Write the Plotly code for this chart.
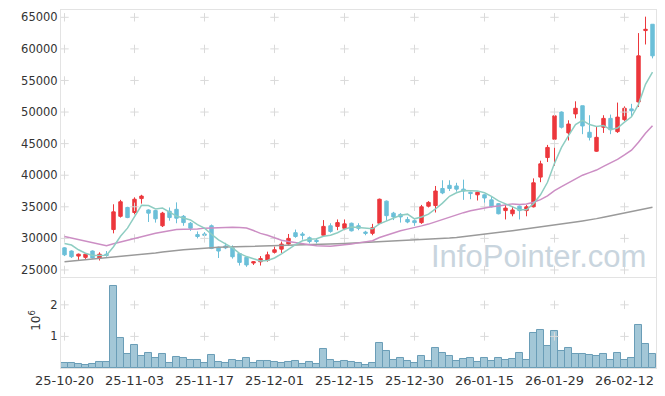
import pandas as pd
import plotly.graph_objects as go

# ---------------- data ----------------
holidays = ["2025-12-25", "2025-12-31", "2026-01-01", "2026-02-16", "2026-02-17", "2026-02-18"]
days = [d for d in pd.bdate_range("2025-10-20", "2026-02-23") if d.strftime("%Y-%m-%d") not in holidays]
dates = [d.strftime("%y-%m-%d") for d in days]

open_ = [28500, 28000, 27200, 27000, 28000, 26900, 27500, 31400, 33500, 34900,
         34100, 36300, 34500, 34400, 32000, 34300, 34600, 33500, 32400, 30600,
         30700, 32000, 28600, 28800, 28500, 27600, 27000, 26100, 26300, 26500,
         27800, 28300, 29100, 30900, 30700, 30100, 29700, 30500, 32000, 31900,
         31600, 32400, 32000, 31000, 30800, 32400, 35900, 34000, 33800, 33000,
         32800, 32500, 35100, 35200, 37900, 38400, 38300, 37800, 37300, 36900,
         36900, 36100, 35500, 34400, 33900, 35100, 34400, 35000, 39700, 42800,
         45700, 50000, 46700, 49700, 51000, 46800, 43800, 47600, 49000, 46900,
         48800, 50500, 51600, 62900, 63900]
high = [28600, 28100, 27600, 27600, 28100, 27800, 28000, 35400, 36100, 35000,
        36500, 36900, 34600, 34500, 34200, 34900, 35700, 33700, 32600, 31100,
        31000, 32200, 28700, 29300, 28900, 27700, 27200, 26400, 27200, 27900,
        28700, 29500, 30700, 31400, 31000, 30300, 30000, 32900, 32400, 33000,
        33000, 32500, 32400, 31200, 32300, 36300, 36000, 34200, 34000, 33400,
        33000, 35300, 35900, 38300, 39200, 39200, 38800, 39300, 37400, 37400,
        37000, 36600, 35600, 35300, 35100, 35200, 35300, 39500, 42300, 44800,
        49700, 50100, 48700, 51700, 51000, 49500, 47700, 49500, 49600, 51500,
        50900, 51300, 62500, 65100, 63900]
low = [27200, 26900, 26600, 26750, 26800, 26500, 27100, 30800, 33300, 33200,
       33800, 35500, 32600, 32500, 31800, 32800, 32400, 32000, 31200, 30000,
       29500, 28300, 26900, 28300, 26800, 25700, 25500, 25800, 25700, 26300,
       27600, 27700, 28900, 30100, 29800, 29200, 29200, 30400, 30900, 31300,
       31300, 31100, 31300, 30500, 30500, 32300, 32800, 32900, 32500, 32400,
       32000, 32300, 34900, 34100, 37000, 37500, 37400, 36100, 36200, 36000,
       35300, 34900, 33800, 33000, 33500, 33000, 33500, 34900, 38900, 42100,
       41500, 47400, 45500, 49000, 46500, 45500, 43700, 46700, 46500, 46700,
       48600, 49300, 50800, 60700, 58500]
close = [27400, 27100, 27500, 27500, 26900, 27500, 27300, 34200, 35800, 33300,
         36200, 36700, 34000, 33100, 34000, 33300, 33200, 32500, 31600, 30300,
         30500, 28400, 28000, 28500, 27100, 26200, 25800, 26300, 26800, 27400,
         28200, 29100, 30000, 30300, 30500, 29500, 29500, 31900, 31100, 32500,
         32300, 31200, 31600, 30800, 31700, 36200, 33600, 33400, 33400, 32600,
         32500, 35000, 35700, 37500, 37200, 37900, 37800, 37500, 37100, 37300,
         36400, 35000, 33900, 34800, 34500, 34400, 35000, 38800, 41800, 44400,
         49400, 47600, 48100, 50600, 47800, 46000, 46000, 49000, 47200, 49200,
         50600, 50200, 58900, 63100, 58900]
volume_m = [0.15, 0.15, 0.12, 0.09, 0.12, 0.18, 0.18, 2.59, 0.94, 0.44,
            0.72, 0.37, 0.46, 0.31, 0.43, 0.15, 0.34, 0.31, 0.24, 0.24,
            0.15, 0.40, 0.18, 0.15, 0.24, 0.21, 0.31, 0.15, 0.21, 0.21,
            0.18, 0.15, 0.18, 0.21, 0.12, 0.18, 0.12, 0.59, 0.24, 0.18,
            0.21, 0.18, 0.15, 0.09, 0.15, 0.78, 0.53, 0.24, 0.31, 0.21,
            0.15, 0.37, 0.21, 0.62, 0.46, 0.37, 0.21, 0.27, 0.31, 0.18,
            0.31, 0.21, 0.31, 0.24, 0.27, 0.46, 0.24, 1.10, 1.19, 0.69,
            1.16, 0.53, 0.62, 0.43, 0.43, 0.40, 0.37, 0.43, 0.24, 0.46,
            0.24, 0.31, 1.35, 0.75, 0.43]
# moving-average values before a full window is available
ma5_head = [29200, 28950, 28200, 27650]
ma20_head = [30300, 30050, 29800, 29570, 29330, 29080, 28850, 29150, 29450, 29700,
             30000, 30250, 30550, 30800, 31000, 31250, 31400, 31450, 31470]
# long moving average (grey)
ma_long = [26300, 26400, 26500, 26600, 26700, 26800, 26900, 27000, 27100, 27200,
           27300, 27400, 27550, 27700, 27850, 28000, 28100, 28200, 28300, 28400,
           28500, 28550, 28600, 28620, 28650, 28670, 28690, 28700, 28720, 28750,
           28800, 28840, 28880, 28920, 28960, 29000, 29040, 29080, 29120, 29160,
           29200, 29250, 29300, 29350, 29400, 29450, 29500, 29550, 29600, 29650,
           29700, 29750, 29800, 29850, 29950, 30050, 30150, 30270, 30400, 30530,
           30660, 30800, 30940, 31080, 31220, 31360, 31500, 31650, 31800, 31950,
           32100, 32250, 32400, 32580, 32750, 32910, 33130, 33350, 33570, 33790,
           34010, 34240, 34470, 34700, 34930]
price_ticks = [25000, 30000, 35000, 40000, 45000, 50000, 55000, 60000, 65000]
vol_ticks = [1, 2]

# ---------------- derived ----------------
cs = pd.Series(close, dtype=float)
ma5 = ma5_head + list(cs.rolling(5).mean().iloc[len(ma5_head):])
ma20 = ma20_head + list(cs.rolling(20).mean().iloc[len(ma20_head):])
volume = [v * 1e6 for v in volume_m]
tick_dates = dates[::10]

fig = go.Figure()

# light "+" marks at grid intersections
cross = dict(symbol="cross-thin", size=6, line=dict(width=1, color="#dadada"))
gx = [d for d in tick_dates for _ in price_ticks]
gy = [p for _ in tick_dates for p in price_ticks]
fig.add_trace(go.Scatter(x=gx, y=gy, mode="markers", xaxis="x2", yaxis="y2",
                         marker=cross, hoverinfo="skip", showlegend=False))
vx = [d for d in tick_dates for _ in vol_ticks]
vy = [v * 1e6 for _ in tick_dates for v in vol_ticks]
fig.add_trace(go.Scatter(x=vx, y=vy, mode="markers", xaxis="x", yaxis="y",
                         marker=cross, hoverinfo="skip", showlegend=False))

fig.add_trace(go.Candlestick(
    x=dates, open=open_, high=high, low=low, close=close, xaxis="x2", yaxis="y2",
    increasing=dict(line=dict(color="#ec373c", width=1), fillcolor="#ec373c"),
    decreasing=dict(line=dict(color="#6bbfd8", width=1), fillcolor="#6bbfd8"),
    whiskerwidth=0, showlegend=False))

fig.add_trace(go.Scatter(x=dates, y=ma_long, mode="lines", xaxis="x2", yaxis="y2",
                         line=dict(color="#9a9a9a", width=1.5), showlegend=False))
fig.add_trace(go.Scatter(x=dates, y=ma20, mode="lines", xaxis="x2", yaxis="y2",
                         line=dict(color="#cc8ec4", width=1.5), showlegend=False))
fig.add_trace(go.Scatter(x=dates, y=ma5, mode="lines", xaxis="x2", yaxis="y2",
                         line=dict(color="#8ecdc2", width=1.5), showlegend=False))

fig.add_trace(go.Bar(x=dates, y=volume, xaxis="x", yaxis="y",
                     marker=dict(color="rgba(158,196,213,0.95)", line=dict(color="#6a9db7", width=1)),
                     showlegend=False))

axis_line = dict(showline=True, linecolor="#e3e3e3", linewidth=1, mirror=True,
                 showgrid=False, zeroline=False, ticks="", automargin=False)
font = "DejaVu Sans"
fig.update_layout(
    width=665, height=396,
    margin=dict(l=61, r=9, t=10, b=28, autoexpand=False),
    paper_bgcolor="white", plot_bgcolor="white",
    bargap=0,
    font=dict(family=font, color="#333333"),
    xaxis=dict(type="category", categoryorder="array", categoryarray=dates,
               range=[-0.5, len(dates) - 0.5], anchor="y",
               tickvals=tick_dates, ticktext=tick_dates,
               tickfont=dict(size=13, color="#333333"), **axis_line),
    xaxis2=dict(type="category", categoryorder="array", categoryarray=dates,
                matches="x", anchor="y2", showticklabels=False,
                rangeslider=dict(visible=False), **axis_line),
    yaxis=dict(domain=[0, 0.2514], range=[0, 2.85e6], anchor="x",
               tickvals=[v * 1e6 for v in vol_ticks], ticktext=[str(v) for v in vol_ticks],
               tickfont=dict(size=11.5, color="#333333"), **axis_line),
    yaxis2=dict(domain=[0.2542, 1], range=[23890, 66156], anchor="x2",
                tickvals=price_ticks, ticktext=[str(p) for p in price_ticks],
                tickfont=dict(size=11.5, color="#333333"), **axis_line),
    annotations=[
        dict(text="10<sup>6</sup>", textangle=-90, xref="paper", yref="paper",
             x=-0.044, y=0.134, xanchor="center", yanchor="middle", showarrow=False,
             font=dict(family=font, size=12, color="#333333")),
        dict(text="InfoPointer.com", xref="paper", yref="paper",
             x=0.987, y=0.312, xanchor="right", yanchor="middle", showarrow=False,
             font=dict(family="Liberation Sans", size=31, color="#c9d5de")),
    ],
)

fig.write_html("out.html", include_plotlyjs=True, config={"displayModeBar": False},
               post_script="document.body.style.margin='0';document.body.style.padding='0';")
